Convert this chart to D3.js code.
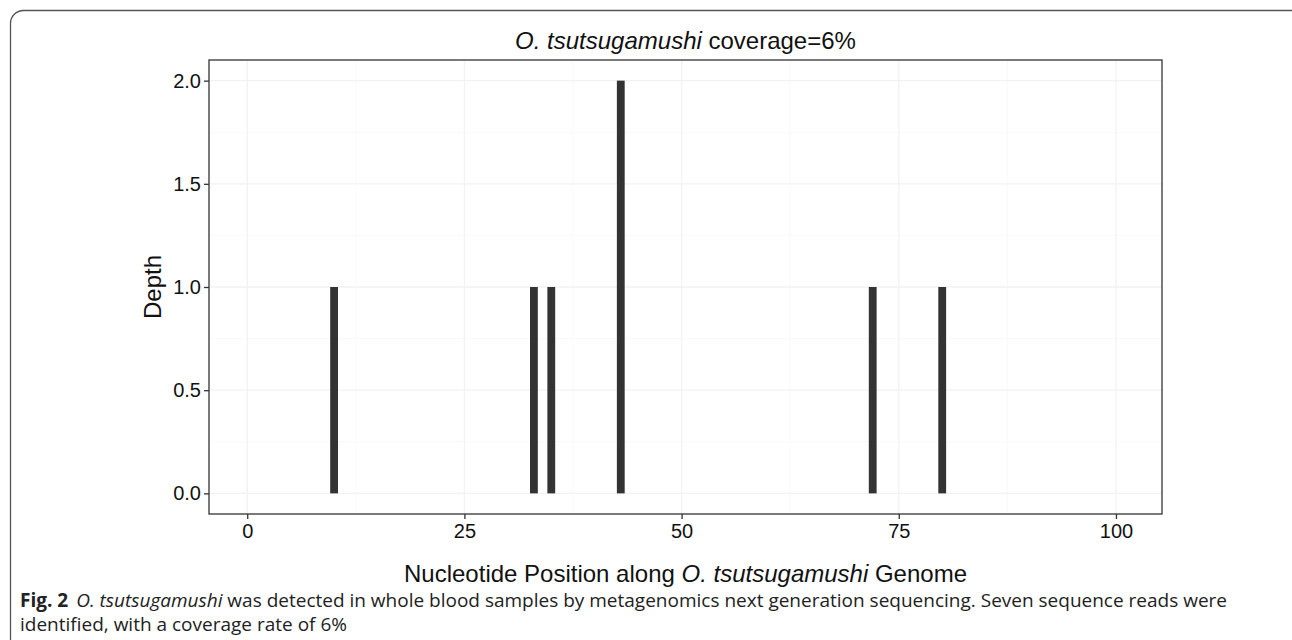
<!DOCTYPE html>
<html>
<head>
<meta charset="utf-8">
<script src="https://cdn.jsdelivr.net/npm/d3@7"></script>
<style>
  body { margin: 0; background: #fff; }
  svg { display: block; }
</style>
</head>
<body>
<div id="chart"></div>
<script>
// read positions (nucleotide position) and depth
var positions = [10, 33, 35, 43, 72, 80];
var depths = [1, 1, 1, 2, 1, 1];
var xTicks = [0, 25, 50, 75, 100];
var yTicks = [0, 0.5, 1.0, 1.5, 2.0];

var W = 1292, H = 640;
var margin = {top: 60, left: 209, right: W - 1162, bottom: H - 514},
    width = W - margin.left - margin.right,
    height = H - margin.top - margin.bottom;

var font = "'Liberation Sans', Arial, sans-serif";

var svg = d3.select("#chart")
  .append("svg")
    .attr("width", W)
    .attr("height", H);

// outer frame with rounded corners
svg.append("rect")
    .attr("x", 10.5).attr("y", 10.5)
    .attr("width", 1300).attr("height", 700)
    .attr("rx", 13)
    .attr("fill", "none")
    .attr("stroke", "#555")
    .attr("stroke-width", 1.3);

var g = svg.append("g")
    .attr("transform", "translate(" + margin.left + "," + margin.top + ")");

var x = d3.scaleLinear()
  .domain([-4.4, 105.3])
  .range([0, width]);

var y = d3.scaleLinear()
  .domain([-0.1, 2.1])
  .range([height, 0]);

// minor grid
var xMinor = [12.5, 37.5, 62.5, 87.5];
var yMinor = [0.25, 0.75, 1.25, 1.75];
g.selectAll(".xminor").data(xMinor).enter().append("line")
    .attr("x1", d => x(d)).attr("x2", d => x(d))
    .attr("y1", 0).attr("y2", height)
    .attr("stroke", "#f9f9f9").attr("stroke-width", 1);
g.selectAll(".yminor").data(yMinor).enter().append("line")
    .attr("y1", d => y(d)).attr("y2", d => y(d))
    .attr("x1", 0).attr("x2", width)
    .attr("stroke", "#f9f9f9").attr("stroke-width", 1);

// major grid
g.selectAll(".xmajor").data(xTicks).enter().append("line")
    .attr("x1", d => x(d)).attr("x2", d => x(d))
    .attr("y1", 0).attr("y2", height)
    .attr("stroke", "#f2f2f2").attr("stroke-width", 1.3);
g.selectAll(".ymajor").data(yTicks).enter().append("line")
    .attr("y1", d => y(d)).attr("y2", d => y(d))
    .attr("x1", 0).attr("x2", width)
    .attr("stroke", "#f2f2f2").attr("stroke-width", 1.3);

// bars
var bw = x(0.9) - x(0);
g.selectAll(".bar")
  .data(positions)
  .enter()
  .append("rect")
    .attr("x", (d) => x(d) - bw / 2)
    .attr("y", (d, i) => y(depths[i]))
    .attr("width", bw)
    .attr("height", (d, i) => y(0) - y(depths[i]))
    .attr("fill", "#333333");

// panel border
g.append("rect")
    .attr("width", width).attr("height", height)
    .attr("fill", "none")
    .attr("stroke", "#333")
    .attr("stroke-width", 1.3);

// X axis
var xAxis = g.append("g")
  .attr("transform", "translate(0," + height + ")")
  .call(d3.axisBottom(x).tickValues(xTicks).tickFormat(d3.format("d")).tickSize(5).tickSizeOuter(0));

// Y axis
var yAxis = g.append("g")
  .call(d3.axisLeft(y).tickValues(yTicks).tickFormat(d3.format(".1f")).tickSize(5).tickSizeOuter(0));

[xAxis, yAxis].forEach(function (a) {
  a.select(".domain").remove();
  a.selectAll(".tick line").attr("stroke", "#333").attr("stroke-width", 1.3);
  a.selectAll("text")
    .attr("fill", "#111")
    .attr("font-family", font)
    .attr("font-size", 20);
});
xAxis.selectAll("text").attr("dy", "0.71em").attr("y", 10);
yAxis.selectAll("text").attr("x", -8);

// title
var title = svg.append("text")
    .attr("x", margin.left + width / 2)
    .attr("y", 49)
    .attr("text-anchor", "middle")
    .attr("font-family", font)
    .attr("font-size", 24)
    .attr("fill", "#111");
title.append("tspan").attr("font-style", "italic").text("O. tsutsugamushi");
title.append("tspan").text(" coverage=6%");

// x label
var xl = svg.append("text")
    .attr("x", margin.left + width / 2)
    .attr("y", 582)
    .attr("text-anchor", "middle")
    .attr("font-family", font)
    .attr("font-size", 24)
    .attr("fill", "#111");
xl.append("tspan").text("Nucleotide Position along ");
xl.append("tspan").attr("font-style", "italic").text("O. tsutsugamushi");
xl.append("tspan").text(" Genome");

// y label
svg.append("text")
    .attr("transform", "translate(161," + (margin.top + height / 2) + ") rotate(-90)")
    .attr("text-anchor", "middle")
    .attr("font-family", font)
    .attr("font-size", 24)
    .attr("fill", "#111")
    .text("Depth");

// caption
var capFont = "'Open Sans', 'Noto Sans', sans-serif";
var cap1 = svg.append("text")
    .attr("x", 20).attr("y", 607)
    .attr("font-family", capFont)
    .attr("font-size", 19)
    .attr("fill", "#222");
cap1.append("tspan").attr("font-weight", "bold").text("Fig. 2");
cap1.append("tspan").attr("dx", 8).attr("font-style", "italic").text("O. tsutsugamushi");
cap1.append("tspan").text(" was detected in whole blood samples by metagenomics next generation sequencing. Seven sequence reads were");

svg.append("text")
    .attr("x", 20).attr("y", 631)
    .attr("font-family", capFont)
    .attr("font-size", 19)
    .attr("fill", "#222")
    .text("identified, with a coverage rate of 6%");
</script>
</body>
</html>
